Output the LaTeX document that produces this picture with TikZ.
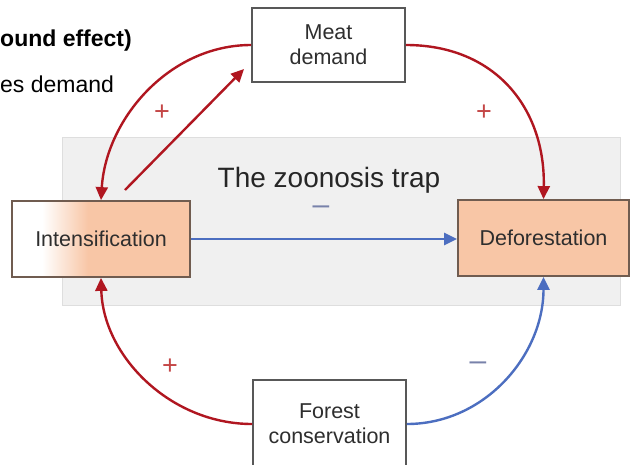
\documentclass[tikz,border=0pt]{standalone}
\usepackage{fontspec}
\setmainfont{Liberation Sans}
\usetikzlibrary{arrows.meta}
\definecolor{peach}{RGB}{248,198,166}
\definecolor{arrred}{RGB}{176,22,32}
\definecolor{arrblue}{RGB}{76,110,192}
\definecolor{signred}{RGB}{196,70,70}
\definecolor{signblue}{RGB}{120,130,170}
\definecolor{band}{RGB}{240,240,240}
\definecolor{bandline}{RGB}{222,222,222}
\definecolor{boxline}{RGB}{88,88,88}
\definecolor{peachline}{RGB}{112,92,80}
\begin{document}
\begin{tikzpicture}[x=1pt,y=-1pt,
  boxtext/.style={font=\fontsize{21.5}{25}\selectfont, text=black!82, align=center, inner sep=0pt},
  plainbox/.style={draw=boxline, line width=1.8pt, fill=white, boxtext},
  peachbox/.style={draw=peachline, line width=1.8pt, boxtext},
  redarrow/.style={draw=arrred, line width=2.4pt, -{Triangle[length=13pt,width=12pt]}},
  bluearrow/.style={draw=arrblue, line width=2.4pt, -{Triangle[length=13pt,width=12pt]}},
  plussign/.style={font=\fontsize{27}{27}\selectfont, text=signred, inner sep=0pt},
  minussign/.style={font=\fontsize{30}{30}\selectfont, text=signblue, inner sep=0pt},
  toptext/.style={font=\fontsize{23}{23}\selectfont, inner sep=0pt, anchor=base west}
]
\useasboundingbox (0,0) rectangle (640,464);
\fill[white] (0,0) rectangle (640,464);
% grey band
\draw[fill=band, draw=bandline, line width=1pt] (62,137) rectangle (620,305);
% cut-off text at top left
\node[toptext, font=\fontsize{23}{23}\selectfont\bfseries] (t1) at (0,46) {ound effect)};
\node[toptext] (t2) at (0,92) {es demand};
% title
\node[font=\fontsize{28}{28}\selectfont, text=black!85, anchor=base, inner sep=0pt] (title) at (329,187) {The zoonosis trap};
% Intensification fill with gradient
\fill[white] (12,201) rectangle (42,277);
\shade[left color=white, right color=peach] (42,201) rectangle (88,277);
\fill[peach] (88,201) rectangle (190,277);
\node[peachbox, minimum width=178pt, minimum height=76pt] (int) at (101,239) {Intensification};
\node[peachbox, fill=peach, minimum width=171pt, minimum height=76pt] (def) at (543.5,238) {Deforestation};
\node[plainbox, minimum width=153pt, minimum height=74pt] (md) at (328.5,45) {Meat\\demand};
\node[plainbox, minimum width=153pt, minimum height=88pt] (fc) at (329.5,424) {Forest\\conservation};
% connectors
\draw[redarrow] (md.west) .. controls +(-82,0) and +(5,-81) .. (int.north);
\draw[redarrow] (md.east) .. controls +(90,0) and +(2,-90) .. (def.north);
\draw[redarrow] (fc.west) .. controls +(-82,0) and +(2,78) .. (int.south);
\draw[bluearrow] (fc.east) .. controls +(78,0) and +(0,78) .. (def.south);
\draw[bluearrow] (int.east) -- (int.east -| def.west);
\coordinate (s1) at (125,190);
\coordinate (s2) at (244,69);
\draw[redarrow] (s1) -- (s2);
% signs
\node[plussign] (p1) at (162,113) {+};
\node[plussign] (p2) at (484,113) {+};
\node[plussign] (p3) at (170,367) {+};
\node[minussign] (m1) at (478,366) {–};
\node[minussign] (m2) at (321,210) {–};
\end{tikzpicture}
\end{document}
